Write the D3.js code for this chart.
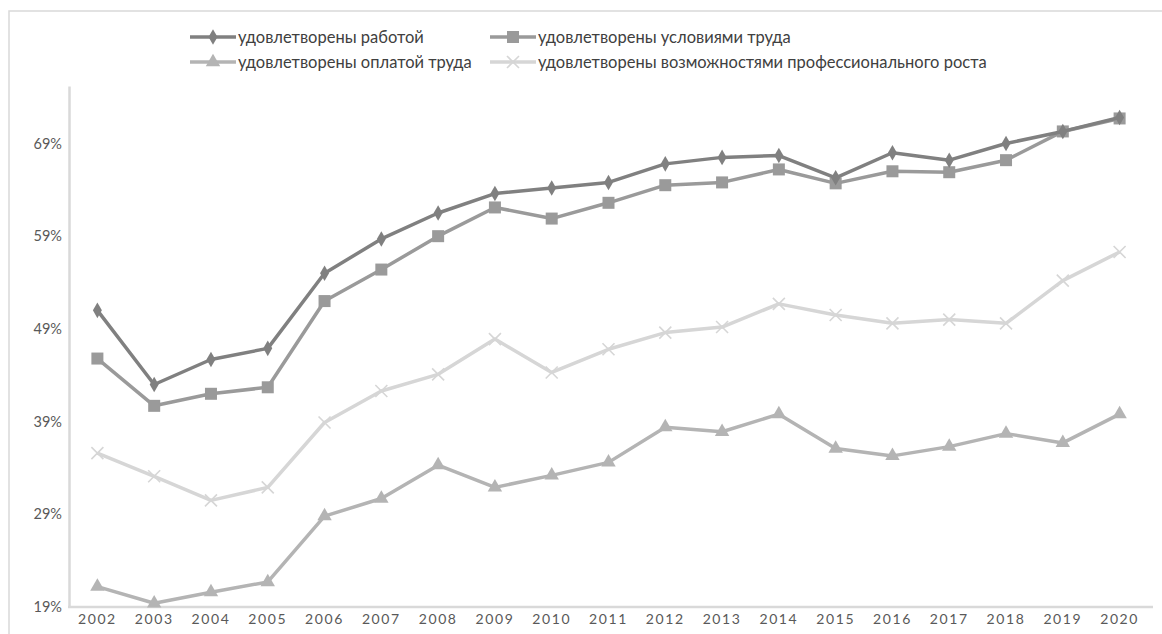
<!DOCTYPE html>
<html><head><meta charset="utf-8">
<script src="https://cdn.jsdelivr.net/npm/d3@7"></script>
<style>body{margin:0;background:#fff;}svg{display:block;}</style>
</head><body>
<svg id="c" width="1162" height="634"></svg>
<script>
const years = ["2002","2003","2004","2005","2006","2007","2008","2009","2010","2011","2012","2013","2014","2015","2016","2017","2018","2019","2020"];
const seriesNames = ["удовлетворены работой","удовлетворены условиями труда","удовлетворены оплатой труда","удовлетворены возможностями профессионального роста"];
const work =       [51.0,43.0,45.7,46.9,55.0,58.7,61.5,63.6,64.2,64.8,66.8,67.5,67.7,65.3,68.0,67.2,69.0,70.3,71.8];
const conditions = [45.8,40.7,42.0,42.7,52.0,55.4,59.0,62.1,60.9,62.6,64.5,64.8,66.2,64.7,66.0,65.9,67.2,70.3,71.7];
const pay =        [21.2,19.4,20.6,21.7,28.8,30.7,34.3,31.9,33.2,34.6,38.4,37.9,39.8,36.1,35.3,36.3,37.7,36.7,39.8];
const growth =     [35.6,33.1,30.5,31.9,38.9,42.3,44.1,47.9,44.3,46.8,48.6,49.2,51.7,50.5,49.6,50.0,49.6,54.2,57.3];
const yTicks = [19,29,39,49,59,69];

const data = [work, conditions, pay, growth];
const colors = ["#808080","#9a9a9a","#b4b4b4","#d6d6d6"];
const shapes = ["diamond","square","triangle","x"];

const svg = d3.select("#c");
svg.append("rect").attr("x",9).attr("y",11).attr("width",1170).attr("height",640)
  .attr("fill","none").attr("stroke","#d9d9d9").attr("stroke-width",1.5);

const x = d3.scaleBand().domain(years).range([69,1148]);
const y = d3.scaleLinear().domain([19,75.2]).range([607,86]);
const cx = d => x(d) + x.bandwidth()/2;

// y axis
const ya = svg.append("g").attr("transform","translate(69,0)")
  .call(d3.axisLeft(y).tickValues(yTicks).tickFormat(d=>d+"%").tickSize(0).tickPadding(7));
ya.select(".domain").attr("stroke","#d9d9d9").attr("stroke-width",2.5);
ya.selectAll("text").attr("font-family","Lato, sans-serif").attr("font-size",14.5).attr("fill","#595959");

// x axis
const xa = svg.append("g").attr("transform","translate(0,607)")
  .call(d3.axisBottom(x).tickSize(0).tickPadding(7));
xa.select(".domain").remove();
svg.append("line").attr("x1",68).attr("x2",1153).attr("y1",607).attr("y2",607)
  .attr("stroke","#d9d9d9").attr("stroke-width",2.5);
xa.selectAll("text").attr("font-family","Lato, sans-serif").attr("font-size",14)
  .attr("fill","#595959").attr("letter-spacing","1.6px");

function marker(g, shape, color, px, py){
  if(shape==="diamond"){
    g.append("path").attr("d",d3.symbol(d3.symbolDiamond,70)()).attr("transform",`translate(${px},${py})`).attr("fill",color);
  } else if(shape==="square"){
    g.append("rect").attr("x",px-6).attr("y",py-6).attr("width",12).attr("height",12).attr("fill",color);
  } else if(shape==="triangle"){
    g.append("path").attr("d",d3.symbol(d3.symbolTriangle,90)()).attr("transform",`translate(${px},${py})`).attr("fill",color);
  } else {
    g.append("path").attr("d",`M${px-6},${py-6}L${px+6},${py+6}M${px-6},${py+6}L${px+6},${py-6}`)
      .attr("stroke",color).attr("stroke-width",1.6).attr("fill","none");
  }
}

const line = d3.line().x((d,i)=>cx(years[i])).y(d=>y(d));
for(let s=3;s>=0;s--){
  const g = svg.append("g");
  g.append("path").datum(data[s]).attr("d",line).attr("fill","none")
    .attr("stroke",colors[s]).attr("stroke-width",3.5).attr("stroke-linejoin","round");
  data[s].forEach((v,i)=>marker(g,shapes[s],colors[s],cx(years[i]),y(v)));
}

// legend
const legPos = [[190,37],[490,37],[190,62],[490,62]];
seriesNames.forEach((n,s)=>{
  const [lx,ly] = legPos[s];
  const g = svg.append("g");
  g.append("line").attr("x1",lx).attr("x2",lx+46).attr("y1",ly).attr("y2",ly)
    .attr("stroke",colors[s]).attr("stroke-width",3.5);
  marker(g,shapes[s],colors[s],lx+23,ly);
  g.append("text").attr("x",lx+48).attr("y",ly+5.5).text(n)
    .attr("font-family","Lato, sans-serif").attr("font-size",16.5).attr("fill","#404040");
});
</script>
</body></html>
